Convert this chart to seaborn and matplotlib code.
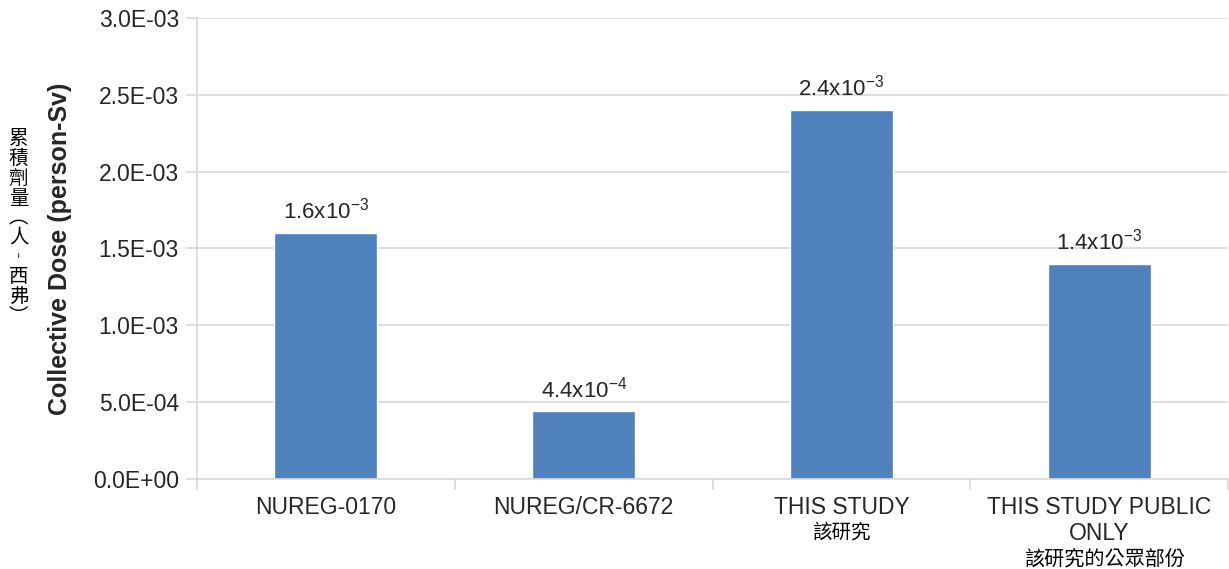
import numpy as np
import pandas as pd
import seaborn as sns
import matplotlib.pyplot as plt

# data
categories = ["NUREG-0170", "NUREG/CR-6672", "THIS STUDY", "THIS STUDY PUBLIC\nONLY"]
sub_labels = ["", "", "該研究", "該研究的公眾部份"]
doses = [1.6e-3, 4.4e-4, 2.4e-3, 1.4e-3]
bar_text = [r"1.6x10$^{-3}$", r"4.4x10$^{-4}$", r"2.4x10$^{-3}$", r"1.4x10$^{-3}$"]
y_ticks = [0, 5e-4, 1e-3, 1.5e-3, 2e-3, 2.5e-3, 3e-3]

df = pd.DataFrame({"study": categories, "dose": doses})

sns.set_theme(style="white")
plt.rcParams['font.family'] = ['Liberation Sans', 'Noto Sans CJK TC', 'DejaVu Sans']
plt.rcParams['mathtext.fontset'] = 'custom'
plt.rcParams['mathtext.rm'] = 'Liberation Sans'

fig = plt.figure(figsize=(12.29, 5.69), dpi=100)
ax = fig.add_axes([0.1603, 0.1582, 0.839, 0.8102])

sns.barplot(data=df, x="study", y="dose", color="#4F81BD", saturation=1,
            width=0.4, ax=ax)

ax.set_xlim(-0.5, 3.5)
ax.set_ylim(0, 3e-3)
ax.set_yticks(y_ticks)
ax.set_yticklabels(["%.1E" % v for v in y_ticks], fontsize=16.5, color="#262626")
ax.yaxis.grid(True, color="#D9D9D9", linewidth=1.2)
ax.set_axisbelow(True)
ax.tick_params(axis="y", length=8, width=1.2, color="#D9D9D9", pad=5, left=True)

# category boundary ticks
ax.set_xticks(range(len(categories)))
ax.set_xticklabels(categories, fontsize=16.5, color="#262626", linespacing=1.18)
ax.set_xticks([-0.5, 0.5, 1.5, 2.5, 3.5], minor=True)
ax.tick_params(axis="x", which="major", length=0, pad=12)
ax.tick_params(axis="x", which="minor", length=8, width=1.2, color="#D9D9D9", bottom=True)

for s in ["top", "right"]:
    ax.spines[s].set_visible(False)
for s in ["left", "bottom"]:
    ax.spines[s].set_color("#D9D9D9")
    ax.spines[s].set_linewidth(1.2)

ax.set_xlabel("")
ax.set_ylabel("Collective Dose (person-Sv)", fontsize=18, fontweight="bold",
              color="#262626", labelpad=15)

for i, (v, t) in enumerate(zip(doses, bar_text)):
    ax.text(i, v + 0.6e-4, t, ha="center", va="bottom", fontsize=16, color="#262626")

# Chinese annotations below category labels
trans = ax.get_xaxis_transform()
ax.text(2, -0.093, sub_labels[2], transform=trans, ha="center", va="top",
        fontsize=14, family="Noto Sans CJK TC", color="black")
ax.text(3.02, -0.151, sub_labels[3], transform=trans, ha="center", va="top",
        fontsize=14.5, family="Noto Sans CJK TC", color="black")

# vertical Chinese y label
vert = "\n".join(["累", "積", "劑", "量", "︵", "人", "︲", "西", "弗", "︶"])
fig.text(0.015, 0.6, vert, ha="center", va="center", fontsize=14,
         family=["Noto Sans CJK TC", "DejaVu Sans"], linespacing=0.92, color="black")

fig.savefig("out.png", dpi=100)
